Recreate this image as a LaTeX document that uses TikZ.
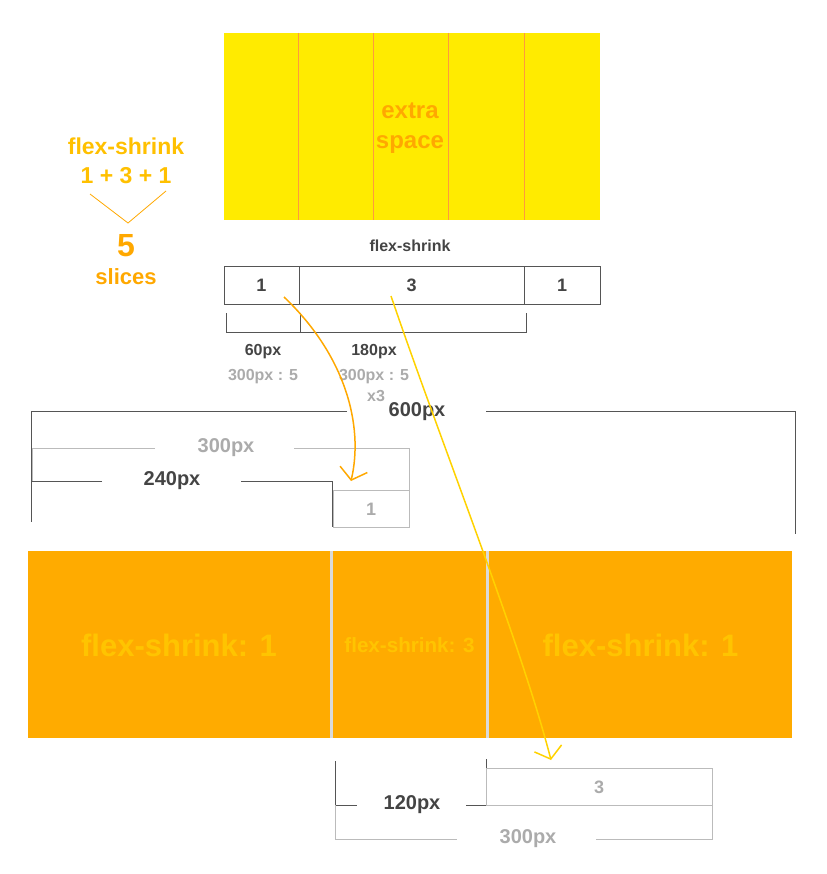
\documentclass[tikz,border=0pt]{standalone}
\usepackage{fontspec}
\setmainfont{Liberation Sans}
\usetikzlibrary{arrows.meta}

\definecolor{sunyellow}{HTML}{FFEB00}
\definecolor{sliceline}{HTML}{FF9A3C}
\definecolor{barorange}{HTML}{FFAB00}
\definecolor{bartext}{HTML}{FFC400}
\definecolor{goldtext}{HTML}{FFC000}
\definecolor{ambertext}{HTML}{FFA800}
\definecolor{darktext}{HTML}{444444}
\definecolor{greytext}{HTML}{ABABAB}
\definecolor{darkline}{HTML}{555555}
\definecolor{greyline}{HTML}{BBBBBB}
\definecolor{sepgrey}{HTML}{DADADA}
\definecolor{arrowone}{HTML}{FFA800}
\definecolor{arrowtwo}{HTML}{FFD200}

\newcommand{\fsz}[1]{\fontsize{#1}{#1}\selectfont\bfseries}

\tikzset{
  txt/.style={inner sep=0pt, font=\fsz{#1}},
  cell/.style={draw=darkline, line width=1pt, minimum height=37pt, inner sep=0pt, font=\fsz{18}, text=darktext},
  dimdark/.style={draw=darkline, line width=1pt},
  dimgrey/.style={draw=greyline, line width=1pt},
  hand/.style={line width=1.5pt, -{Straight Barb[length=11pt,width=28pt]}}
}

\begin{document}
\begin{tikzpicture}[x=1pt,y=-1pt]
  \useasboundingbox (0,0) rectangle (826,874);

  % extra space, five slices
  \fill[sunyellow] (224,33) rectangle (600,220);
  \foreach \x in {298,373,448,524}
    \draw[sliceline, line width=0.8pt] (\x,33) -- (\x,220);
  \node[txt=24, text=ambertext, align=center] (extra) at (410,128) {extra\\[6pt]space};

  % slice count
  \begin{scope}[every node/.append style={align=center}]
    \node[txt=23, text=goldtext] (sum) at (126,161) {flex-shrink\\[6pt]1 + 3 + 1};
    \node[txt=32, text=ambertext] (five) at (126,246) {5};
    \node[txt=22, text=ambertext] (slices) at (126,277) {slices};
  \end{scope}
  \coordinate (vl) at (90,194);
  \coordinate (vb) at (128,223);
  \coordinate (vr) at (166,191);
  \draw[ambertext, line width=0.8pt] (vl) -- (vb) -- (vr);

  % flex-shrink row
  \node[txt=16, text=darktext] (title) at (410,246) {flex-shrink};
  \node[cell, minimum width=75pt]  (c1) at (261.5,285.5) {1};
  \node[cell, minimum width=225pt] (c2) at (411.5,285.5) {3};
  \node[cell, minimum width=76pt]  (c3) at (562,285.5) {1};

  \draw[dimdark] (226,313) |- (526,332) -- (526,313);
  \draw[dimdark] (300,313) -- (300,332);

  \begin{scope}[every node/.style={txt=16}]
    \node[text=darktext] (w60)  at (263,352) {60px};
    \node[text=darktext] (w180) at (374,352) {180px};
    \node[text=greytext] (d60)  at (263,377) {300px : 5};
    \node[text=greytext] (d180) at (374,377) {300px : 5};
    \node[text=greytext] (x3)   at (376,396) {x3};
  \end{scope}

  % 600px container, first item
  \draw[dimdark] (347,411) -- (31,411) -- (31,522);
  \draw[dimdark] (486,411) -- (795,411) -- (795,534);
  \node[txt=20, text=darktext] (w600) at (417,412) {600px};

  \draw[dimgrey] (155,448) -- (32,448) -- (32,481);
  \draw[dimgrey] (294,448) -- (409,448) -- (409,490);
  \node[txt=20, text=greytext] (o300a) at (226,448) {300px};
  \draw[dimgrey] (333,490) rectangle (409,527);
  \node[txt=18, text=greytext] (g1) at (371,509) {1};

  \draw[dimdark] (102,481) -- (32,481);
  \draw[dimdark] (241,481) -- (332,481) -- (332,527);
  \node[txt=20, text=darktext] (w240) at (172,481) {240px};

  % shrunk items
  \fill[barorange] (28,551) rectangle (792,738);
  \foreach \x in {331.5,487.5}
    \draw[sepgrey, line width=3pt] (\x,551) -- (\x,738);
  \begin{scope}[every node/.style={text=bartext}]
    \node[txt=31] (f1) at (179,645) {flex-shrink: 1};
    \node[txt=20.6] (f3) at (409.5,645) {flex-shrink: 3};
    \node[txt=31] (f5) at (640.5,645) {flex-shrink: 1};
  \end{scope}

  % second item
  \draw[dimdark] (335,761) -- (335,805) -- (357,805);
  \draw[dimdark] (466,805) -- (486,805) -- (486,759);
  \node[txt=20, text=darktext] (w120) at (412,805) {120px};

  \draw[dimgrey] (486,768) rectangle (712,805);
  \node[txt=18, text=greytext] (g3) at (599,787) {3};
  \draw[dimgrey] (335,805) -- (335,839) -- (457,839);
  \draw[dimgrey] (596,839) -- (712,839) -- (712,805);
  \node[txt=20, text=greytext] (o300b) at (528,839) {300px};

  % hand arrows
  \coordinate (a1s) at (284,297);
  \coordinate (a1e) at (351,481);
  \coordinate (a2s) at (391,296);
  \coordinate (a2e) at (551,760);
  \draw[hand, arrowone] (a1s) .. controls (345,355) and (364,425) .. (a1e);
  \draw[hand, arrowtwo] (a2s) .. controls (440,440) and (520,640) .. (a2e);

\end{tikzpicture}
\end{document}
